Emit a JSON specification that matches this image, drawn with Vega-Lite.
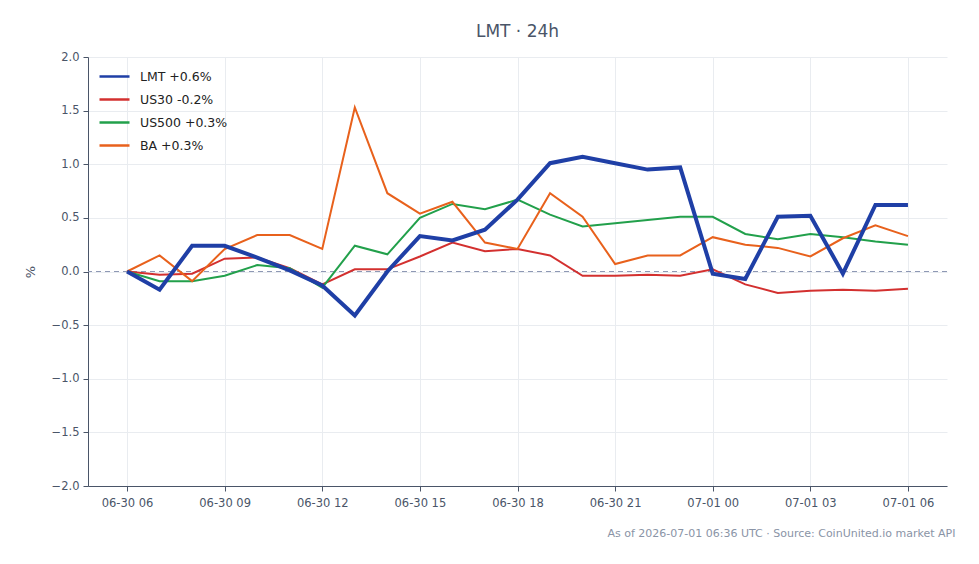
{
  "width": 859,
  "height": 429,
  "autosize": "none",
  "padding": {"left": 88, "top": 57, "right": 32, "bottom": 78},
  "title": {
    "text": "LMT · 24h",
    "fontSize": 17,
    "fontWeight": "normal",
    "color": "#4a5568",
    "offset": 10
  },
  "config": {
    "font": "DejaVu Sans",
    "view": {"stroke": null},
    "axis": {
      "labelColor": "#4a5568",
      "labelFontSize": 11.5,
      "gridColor": "#e9ecf0",
      "domainColor": "#4a5568",
      "tickColor": "#4a5568",
      "titleColor": "#4a5568",
      "titleFontWeight": "normal"
    }
  },
  "data": {
    "values": [
      {"s": "LMT +0.6%", "t": "2026-06-30T06:00:00Z", "v": 0.00},
      {"s": "LMT +0.6%", "t": "2026-06-30T07:00:00Z", "v": -0.17},
      {"s": "LMT +0.6%", "t": "2026-06-30T08:00:00Z", "v": 0.24},
      {"s": "LMT +0.6%", "t": "2026-06-30T09:00:00Z", "v": 0.24},
      {"s": "LMT +0.6%", "t": "2026-06-30T10:00:00Z", "v": 0.13},
      {"s": "LMT +0.6%", "t": "2026-06-30T11:00:00Z", "v": 0.01},
      {"s": "LMT +0.6%", "t": "2026-06-30T12:00:00Z", "v": -0.13},
      {"s": "LMT +0.6%", "t": "2026-06-30T13:00:00Z", "v": -0.41},
      {"s": "LMT +0.6%", "t": "2026-06-30T14:00:00Z", "v": 0.00},
      {"s": "LMT +0.6%", "t": "2026-06-30T15:00:00Z", "v": 0.33},
      {"s": "LMT +0.6%", "t": "2026-06-30T16:00:00Z", "v": 0.29},
      {"s": "LMT +0.6%", "t": "2026-06-30T17:00:00Z", "v": 0.39},
      {"s": "LMT +0.6%", "t": "2026-06-30T18:00:00Z", "v": 0.67},
      {"s": "LMT +0.6%", "t": "2026-06-30T19:00:00Z", "v": 1.01},
      {"s": "LMT +0.6%", "t": "2026-06-30T20:00:00Z", "v": 1.07},
      {"s": "LMT +0.6%", "t": "2026-06-30T21:00:00Z", "v": 1.01},
      {"s": "LMT +0.6%", "t": "2026-06-30T22:00:00Z", "v": 0.95},
      {"s": "LMT +0.6%", "t": "2026-06-30T23:00:00Z", "v": 0.97},
      {"s": "LMT +0.6%", "t": "2026-07-01T00:00:00Z", "v": -0.02},
      {"s": "LMT +0.6%", "t": "2026-07-01T01:00:00Z", "v": -0.07},
      {"s": "LMT +0.6%", "t": "2026-07-01T02:00:00Z", "v": 0.51},
      {"s": "LMT +0.6%", "t": "2026-07-01T03:00:00Z", "v": 0.52},
      {"s": "LMT +0.6%", "t": "2026-07-01T04:00:00Z", "v": -0.02},
      {"s": "LMT +0.6%", "t": "2026-07-01T05:00:00Z", "v": 0.62},
      {"s": "LMT +0.6%", "t": "2026-07-01T06:00:00Z", "v": 0.62},
      {"s": "US30 -0.2%", "t": "2026-06-30T06:00:00Z", "v": 0.00},
      {"s": "US30 -0.2%", "t": "2026-06-30T07:00:00Z", "v": -0.03},
      {"s": "US30 -0.2%", "t": "2026-06-30T08:00:00Z", "v": -0.02},
      {"s": "US30 -0.2%", "t": "2026-06-30T09:00:00Z", "v": 0.12},
      {"s": "US30 -0.2%", "t": "2026-06-30T10:00:00Z", "v": 0.13},
      {"s": "US30 -0.2%", "t": "2026-06-30T11:00:00Z", "v": 0.03},
      {"s": "US30 -0.2%", "t": "2026-06-30T12:00:00Z", "v": -0.12},
      {"s": "US30 -0.2%", "t": "2026-06-30T13:00:00Z", "v": 0.02},
      {"s": "US30 -0.2%", "t": "2026-06-30T14:00:00Z", "v": 0.02},
      {"s": "US30 -0.2%", "t": "2026-06-30T15:00:00Z", "v": 0.14},
      {"s": "US30 -0.2%", "t": "2026-06-30T16:00:00Z", "v": 0.27},
      {"s": "US30 -0.2%", "t": "2026-06-30T17:00:00Z", "v": 0.19},
      {"s": "US30 -0.2%", "t": "2026-06-30T18:00:00Z", "v": 0.21},
      {"s": "US30 -0.2%", "t": "2026-06-30T19:00:00Z", "v": 0.15},
      {"s": "US30 -0.2%", "t": "2026-06-30T20:00:00Z", "v": -0.04},
      {"s": "US30 -0.2%", "t": "2026-06-30T21:00:00Z", "v": -0.04},
      {"s": "US30 -0.2%", "t": "2026-06-30T22:00:00Z", "v": -0.03},
      {"s": "US30 -0.2%", "t": "2026-06-30T23:00:00Z", "v": -0.04},
      {"s": "US30 -0.2%", "t": "2026-07-01T00:00:00Z", "v": 0.02},
      {"s": "US30 -0.2%", "t": "2026-07-01T01:00:00Z", "v": -0.12},
      {"s": "US30 -0.2%", "t": "2026-07-01T02:00:00Z", "v": -0.20},
      {"s": "US30 -0.2%", "t": "2026-07-01T03:00:00Z", "v": -0.18},
      {"s": "US30 -0.2%", "t": "2026-07-01T04:00:00Z", "v": -0.17},
      {"s": "US30 -0.2%", "t": "2026-07-01T05:00:00Z", "v": -0.18},
      {"s": "US30 -0.2%", "t": "2026-07-01T06:00:00Z", "v": -0.16},
      {"s": "US500 +0.3%", "t": "2026-06-30T06:00:00Z", "v": 0.00},
      {"s": "US500 +0.3%", "t": "2026-06-30T07:00:00Z", "v": -0.09},
      {"s": "US500 +0.3%", "t": "2026-06-30T08:00:00Z", "v": -0.09},
      {"s": "US500 +0.3%", "t": "2026-06-30T09:00:00Z", "v": -0.04},
      {"s": "US500 +0.3%", "t": "2026-06-30T10:00:00Z", "v": 0.06},
      {"s": "US500 +0.3%", "t": "2026-06-30T11:00:00Z", "v": 0.03},
      {"s": "US500 +0.3%", "t": "2026-06-30T12:00:00Z", "v": -0.15},
      {"s": "US500 +0.3%", "t": "2026-06-30T13:00:00Z", "v": 0.24},
      {"s": "US500 +0.3%", "t": "2026-06-30T14:00:00Z", "v": 0.16},
      {"s": "US500 +0.3%", "t": "2026-06-30T15:00:00Z", "v": 0.50},
      {"s": "US500 +0.3%", "t": "2026-06-30T16:00:00Z", "v": 0.63},
      {"s": "US500 +0.3%", "t": "2026-06-30T17:00:00Z", "v": 0.58},
      {"s": "US500 +0.3%", "t": "2026-06-30T18:00:00Z", "v": 0.67},
      {"s": "US500 +0.3%", "t": "2026-06-30T19:00:00Z", "v": 0.53},
      {"s": "US500 +0.3%", "t": "2026-06-30T20:00:00Z", "v": 0.42},
      {"s": "US500 +0.3%", "t": "2026-06-30T21:00:00Z", "v": 0.45},
      {"s": "US500 +0.3%", "t": "2026-06-30T22:00:00Z", "v": 0.48},
      {"s": "US500 +0.3%", "t": "2026-06-30T23:00:00Z", "v": 0.51},
      {"s": "US500 +0.3%", "t": "2026-07-01T00:00:00Z", "v": 0.51},
      {"s": "US500 +0.3%", "t": "2026-07-01T01:00:00Z", "v": 0.35},
      {"s": "US500 +0.3%", "t": "2026-07-01T02:00:00Z", "v": 0.30},
      {"s": "US500 +0.3%", "t": "2026-07-01T03:00:00Z", "v": 0.35},
      {"s": "US500 +0.3%", "t": "2026-07-01T04:00:00Z", "v": 0.32},
      {"s": "US500 +0.3%", "t": "2026-07-01T05:00:00Z", "v": 0.28},
      {"s": "US500 +0.3%", "t": "2026-07-01T06:00:00Z", "v": 0.25},
      {"s": "BA +0.3%", "t": "2026-06-30T06:00:00Z", "v": 0.00},
      {"s": "BA +0.3%", "t": "2026-06-30T07:00:00Z", "v": 0.15},
      {"s": "BA +0.3%", "t": "2026-06-30T08:00:00Z", "v": -0.09},
      {"s": "BA +0.3%", "t": "2026-06-30T09:00:00Z", "v": 0.21},
      {"s": "BA +0.3%", "t": "2026-06-30T10:00:00Z", "v": 0.34},
      {"s": "BA +0.3%", "t": "2026-06-30T11:00:00Z", "v": 0.34},
      {"s": "BA +0.3%", "t": "2026-06-30T12:00:00Z", "v": 0.21},
      {"s": "BA +0.3%", "t": "2026-06-30T13:00:00Z", "v": 1.53},
      {"s": "BA +0.3%", "t": "2026-06-30T14:00:00Z", "v": 0.73},
      {"s": "BA +0.3%", "t": "2026-06-30T15:00:00Z", "v": 0.54},
      {"s": "BA +0.3%", "t": "2026-06-30T16:00:00Z", "v": 0.65},
      {"s": "BA +0.3%", "t": "2026-06-30T17:00:00Z", "v": 0.27},
      {"s": "BA +0.3%", "t": "2026-06-30T18:00:00Z", "v": 0.21},
      {"s": "BA +0.3%", "t": "2026-06-30T19:00:00Z", "v": 0.73},
      {"s": "BA +0.3%", "t": "2026-06-30T20:00:00Z", "v": 0.51},
      {"s": "BA +0.3%", "t": "2026-06-30T21:00:00Z", "v": 0.07},
      {"s": "BA +0.3%", "t": "2026-06-30T22:00:00Z", "v": 0.15},
      {"s": "BA +0.3%", "t": "2026-06-30T23:00:00Z", "v": 0.15},
      {"s": "BA +0.3%", "t": "2026-07-01T00:00:00Z", "v": 0.32},
      {"s": "BA +0.3%", "t": "2026-07-01T01:00:00Z", "v": 0.25},
      {"s": "BA +0.3%", "t": "2026-07-01T02:00:00Z", "v": 0.22},
      {"s": "BA +0.3%", "t": "2026-07-01T03:00:00Z", "v": 0.14},
      {"s": "BA +0.3%", "t": "2026-07-01T04:00:00Z", "v": 0.31},
      {"s": "BA +0.3%", "t": "2026-07-01T05:00:00Z", "v": 0.43},
      {"s": "BA +0.3%", "t": "2026-07-01T06:00:00Z", "v": 0.33}
    ]
  },
  "encoding": {
    "x": {
      "field": "t",
      "type": "temporal",
      "scale": {
        "domain": [
          {"year": 2026, "month": 6, "date": 30, "hours": 4, "minutes": 48, "utc": true},
          {"year": 2026, "month": 7, "date": 1, "hours": 7, "minutes": 12, "utc": true}
        ]
      },
      "axis": {
        "format": "%m-%d %H",
        "tickCount": 9,
        "labelPadding": 6,
        "tickSize": 5,
        "labelFlush": false,
        "title": "As of 2026-07-01 06:36 UTC · Source: CoinUnited.io market API",
        "titleFontSize": 11,
        "titleColor": "#8a94a6",
        "titleAnchor": "end",
        "titleAlign": "right",
        "titleX": 867,
        "titleY": 41
      }
    },
    "y": {
      "field": "v",
      "type": "quantitative",
      "scale": {"domain": [-2, 2], "nice": false},
      "axis": {
        "values": [-2, -1.5, -1, -0.5, 0, 0.5, 1, 1.5, 2],
        "format": ".1f",
        "title": "%",
        "titleFontSize": 13,
        "titlePadding": 14,
        "tickSize": 5,
        "labelPadding": 4
      }
    },
    "color": {
      "field": "s",
      "type": "nominal",
      "scale": {
        "domain": ["LMT +0.6%", "US30 -0.2%", "US500 +0.3%", "BA +0.3%"],
        "range": ["#1f3fa6", "#d3302f", "#22a04b", "#e8611c"]
      },
      "legend": {
        "title": null,
        "orient": "none",
        "legendX": 10,
        "legendY": 3,
        "symbolType": "stroke",
        "symbolSize": 900,
        "symbolStrokeWidth": 2.5,
        "labelFontSize": 12.5,
        "labelColor": "#222222",
        "rowPadding": -9,
        "labelOffset": 9
      }
    }
  },
  "layer": [
    {
      "mark": {"type": "rule", "strokeDash": [5, 4], "color": "#8e98b4", "strokeWidth": 1.2},
      "encoding": {"y": {"datum": 0}, "x": null, "color": null}
    },
    {
      "transform": [{"filter": "datum.s !== 'LMT +0.6%'"}],
      "mark": {"type": "line", "strokeWidth": 2}
    },
    {
      "transform": [{"filter": "datum.s === 'LMT +0.6%'"}],
      "mark": {"type": "line", "strokeWidth": 4}
    }
  ]
}
